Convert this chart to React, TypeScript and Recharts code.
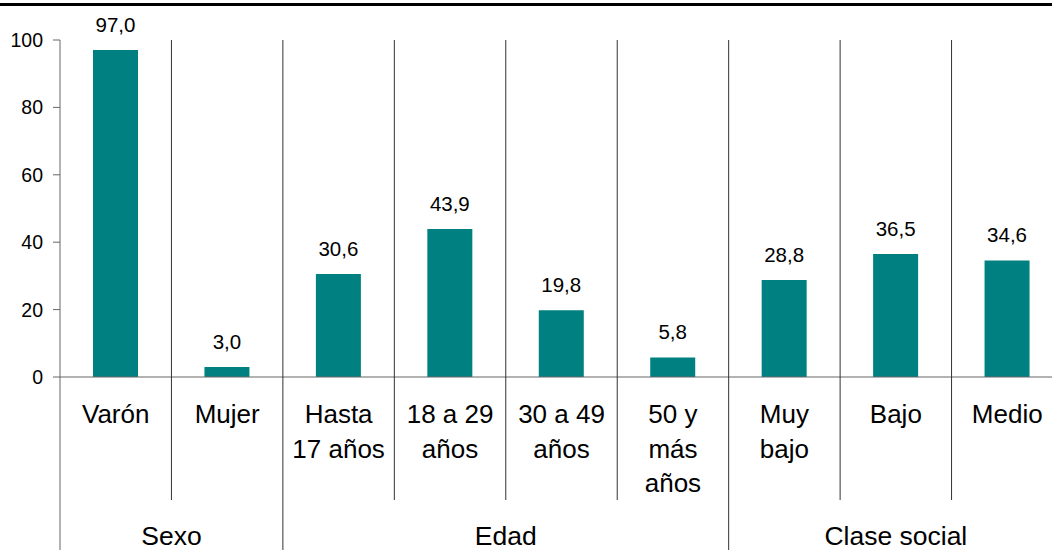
import { BarChart, Bar, XAxis, YAxis, LabelList } from 'recharts';

const CATEGORIES = ['Varón', 'Mujer', 'Hasta 17 años', '18 a 29 años', '30 a 49 años', '50 y más años', 'Muy bajo', 'Bajo', 'Medio'];
const CATEGORY_LINES = [
  ['Varón'],
  ['Mujer'],
  ['Hasta', '17 años'],
  ['18 a 29', 'años'],
  ['30 a 49', 'años'],
  ['50 y', 'más', 'años'],
  ['Muy', 'bajo'],
  ['Bajo'],
  ['Medio'],
];
const VALUES = [97.0, 3.0, 30.6, 43.9, 19.8, 5.8, 28.8, 36.5, 34.6];
const GROUPS = ['Sexo', 'Edad', 'Clase social'];
const GROUP_SIZES = [2, 4, 3];
const Y_TICKS = [0, 20, 40, 60, 80, 100];

const FONT = '"Liberation Sans", Arial, Helvetica, sans-serif';
const BAR_COLOR = '#008080';
const LINE_COLOR = '#333333';

const CHART_W = 1063;
const CHART_H = 550;
const TOP = 40;
const Y_W = 60;
const X_H = 173;
const PLOT_W = CHART_W - Y_W;
const AXIS_Y = CHART_H - X_H;
const BAND = PLOT_W / CATEGORIES.length;

const data = CATEGORIES.map((name, i) => ({ name, value: VALUES[i] }));

// group boundaries (index of first / last category in each group)
const groupEnds: number[] = [];
const groupStarts: number[] = [];
GROUP_SIZES.reduce((acc, size) => {
  groupStarts.push(acc);
  groupEnds.push(acc + size - 1);
  return acc + size;
}, 0);

function CategoryTick(props: any) {
  const { x, index } = props;
  const lines = CATEGORY_LINES[index] || [];
  const right = x + BAND / 2;
  const isGroupEnd = groupEnds.includes(index);
  const g = groupStarts.indexOf(index);
  return (
    <g>
      {lines.map((line, i) => (
        <text
          key={i}
          x={x}
          y={AXIS_Y + 46 + i * 34.5}
          textAnchor="middle"
          fontSize={26}
          fontFamily={FONT}
          fill="#000"
        >
          {line}
        </text>
      ))}
      {index === 0 && (
        <line x1={x - BAND / 2} x2={x - BAND / 2} y1={AXIS_Y} y2={CHART_H} stroke="#666" />
      )}
      {index < CATEGORIES.length - 1 && (
        <line
          x1={right}
          x2={right}
          y1={TOP}
          y2={isGroupEnd ? CHART_H : 500}
          stroke={LINE_COLOR}
        />
      )}
      {g >= 0 && (
        <text
          x={x + ((GROUP_SIZES[g] - 1) * BAND) / 2}
          y={545}
          textAnchor="middle"
          fontSize={26.5}
          fontFamily={FONT}
          fill="#000"
        >
          {GROUPS[g]}
        </text>
      )}
    </g>
  );
}

function ValueLabel(props: any) {
  const { x, y, width, value } = props;
  return (
    <text
      x={x + width / 2}
      y={y - 18}
      textAnchor="middle"
      fontSize={20.5}
      fontFamily={FONT}
      fill="#000"
    >
      {Number(value).toFixed(1).replace('.', ',')}
    </text>
  );
}

export default function App() {
  return (
    <div
      style={{
        position: 'absolute',
        left: 0,
        top: 0,
        width: 1052,
        height: 550,
        overflow: 'hidden',
        background: '#fff',
      }}
    >
      <div style={{ position: 'absolute', left: 0, top: 3, width: 1052, height: 3, background: '#000' }} />
      <BarChart
        width={CHART_W}
        height={CHART_H}
        data={data}
        margin={{ top: TOP, right: 0, left: 0, bottom: 0 }}
      >
        <XAxis
          dataKey="name"
          interval={0}
          height={X_H}
          tickLine={false}
          axisLine={{ stroke: '#666' }}
          tick={(p: any) => <CategoryTick {...p} />}
        />
        <YAxis
          width={Y_W}
          domain={[0, 100]}
          ticks={Y_TICKS}
          tickSize={7}
          tickMargin={10}
          axisLine={{ stroke: '#666' }}
          tickLine={{ stroke: '#666' }}
          tick={{ fill: '#000', fontSize: 19.5, fontFamily: FONT }}
        />
        <Bar dataKey="value" fill={BAR_COLOR} barSize={45} isAnimationActive={false}>
          <LabelList dataKey="value" content={(p: any) => <ValueLabel {...p} />} />
        </Bar>
      </BarChart>
    </div>
  );
}
